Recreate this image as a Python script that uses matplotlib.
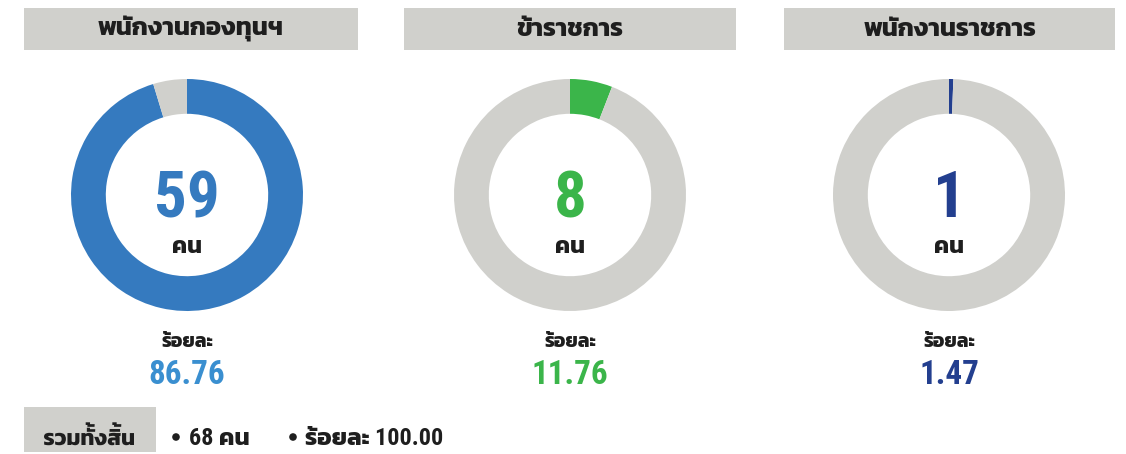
import matplotlib
matplotlib.use("Agg")
import numpy as np
import matplotlib.pyplot as plt
from matplotlib import font_manager as fm
from matplotlib.patches import Rectangle, PathPatch, Circle
from matplotlib.textpath import TextPath
from matplotlib.path import Path
from matplotlib.transforms import Affine2D

# data
groups = ["พนักงานกองทุนฯ", "ข้าราชการ", "พนักงานราชการ"]
counts = [59, 8, 1]
percents = ["86.76", "11.76", "1.47"]
arc_share = [0.953, 0.059, 0.006]   # filled part of each ring as drawn
total_count = 68
total_percent = "100.00"

ring_colors = ["#357abf", "#3bb54a", "#233f8f"]
pct_colors = ["#3a8fd0", "#3bb54a", "#233f8f"]
grey = "#d0d0cc"
ink = "#1e1e1e"


def first_font(names):
    for n in names:
        try:
            fm.findfont(fm.FontProperties(family=n), fallback_to_default=False)
            return n
        except Exception:
            pass
    return None


latin = first_font(["Roboto Condensed", "Archivo Narrow", "Barlow Condensed", "DejaVu Sans"])
thai = first_font(["Kanit", "IBM Plex Sans Thai", "Noto Sans Thai"])
fams = [f for f in [latin, thai, "DejaVu Sans"] if f]
plt.rcParams["font.family"] = fams

W, H = 1126, 454
fig = plt.figure(figsize=(W / 100, H / 100), dpi=100)
bg = fig.add_axes([0, 0, 1, 1])
bg.set_xlim(0, W)
bg.set_ylim(H, 0)
bg.axis("off")
renderer = fig.canvas.get_renderer()


def fit_size(s, width, weight="bold"):
    # font size that makes s about `width` pixels wide
    t = bg.text(0, 0, s, fontsize=20, fontweight=weight)
    w = t.get_window_extent(renderer).width
    t.remove()
    return 20 * width / w


TONES = "\u0e48\u0e49\u0e4a\u0e4b\u0e4c"
UPPER = "\u0e31\u0e34\u0e35\u0e36\u0e37\u0e47"


def thai_label(s, xc, baseline, width, color):
    # matplotlib does no mark stacking, so lift tone marks that sit on an upper vowel
    prop = fm.FontProperties(family=thai or fams[0], weight="bold")
    em = 30.0
    no_tone = "".join(c for c in s if c not in TONES)
    tones_only = "".join(c for c in s if c not in UPPER)
    bare = "".join(c for c in s if c not in TONES + UPPER)
    p_main = TextPath((0, 0), no_tone, size=em, prop=prop)
    p_tone = TextPath((0, 0), tones_only, size=em, prop=prop)
    base_top = TextPath((0, 0), bare, size=em, prop=prop).vertices[:, 1].max()
    vowel_top = p_main.vertices[:, 1].max()

    v, c = p_tone.vertices.copy(), p_tone.codes
    starts = list(np.where(c == Path.MOVETO)[0]) + [len(c)]
    keep_v, keep_c = [], []
    for a, b in zip(starts[:-1], starts[1:]):
        seg_v, seg_c = v[a:b], c[a:b]
        ys = seg_v[seg_c != Path.CLOSEPOLY, 1]
        if ys.min() > base_top + 0.01 * em:
            keep_v.append(seg_v)
            keep_c.append(seg_c)
    parts = [p_main]
    if keep_v:
        mv = np.concatenate(keep_v)
        mc = np.concatenate(keep_c)
        low = mv[mc != Path.CLOSEPOLY, 1].min()
        mv = mv + [0, vowel_top - low + 0.04 * em]
        parts.append(Path(mv, mc))
    path = Path.make_compound_path(*parts)
    ext = p_main.get_extents()
    k = width / ext.width
    tr = (Affine2D().translate(-(ext.x0 + ext.x1) / 2, 0)
          .scale(k, -k).translate(xc, baseline))
    bg.add_patch(PathPatch(path, transform=tr + bg.transData, color=color, lw=0))


size_head = fit_size(groups[0], 186)
size_num = fit_size("59", 66)
size_kon = fit_size("คน", 30)
size_roiyla = fit_size("ร้อยละ", 52)
size_pct = fit_size(percents[0], 77)
size_foot = fit_size("ร้อยละ " + total_percent, 138)

centers = [187, 570, 949]
cy, r_out = 195, 116
boxes = [(24, 358), (404, 736), (784, 1115)]

for i in range(3):
    x0, x1 = boxes[i]
    bg.add_patch(Rectangle((x0, 8), x1 - x0, 42, color=grey, lw=0))
    bg.text((x0 + x1) / 2, 36, groups[i], ha="center", va="baseline",
            fontsize=size_head, fontweight="bold", color=ink)

    cx = centers[i]
    ax = fig.add_axes([(cx - r_out) / W, 1 - (cy + r_out) / H, 2 * r_out / W, 2 * r_out / H])
    ax.pie([arc_share[i], 1 - arc_share[i]], colors=[ring_colors[i], grey],
           startangle=90, counterclock=False, radius=1,
           wedgeprops=dict(width=0.30, linewidth=0))
    ax.set_xlim(-1, 1)
    ax.set_ylim(-1, 1)
    ax.set_aspect("equal")
    ax.axis("off")

    bg.text(cx, 217, str(counts[i]), ha="center", va="baseline",
            fontsize=size_num, fontweight="bold", color=ring_colors[i])
    bg.text(cx, 253, "คน", ha="center", va="baseline",
            fontsize=size_kon, fontweight="bold", color=ink)
    bg.text(cx, 347, "ร้อยละ", ha="center", va="baseline",
            fontsize=size_roiyla, fontweight="bold", color=ink)
    bg.text(cx, 384, percents[i], ha="center", va="baseline",
            fontsize=size_pct, fontweight="bold", color=pct_colors[i])

# footer
bg.add_patch(Rectangle((24, 407), 132, 45, color=grey, lw=0))
thai_label("รวมทั้งสิ้น", 89, 445, 90, ink)
bg.add_patch(Circle((176, 437), 3.8, color=ink, lw=0))
bg.text(189, 445, "%d คน" % total_count, ha="left", va="baseline",
        fontsize=size_foot, fontweight="bold", color=ink)
bg.add_patch(Circle((293, 437), 3.8, color=ink, lw=0))
bg.text(305, 445, "ร้อยละ " + total_percent, ha="left", va="baseline",
        fontsize=size_foot, fontweight="bold", color=ink)

fig.savefig("out.png", dpi=100)
